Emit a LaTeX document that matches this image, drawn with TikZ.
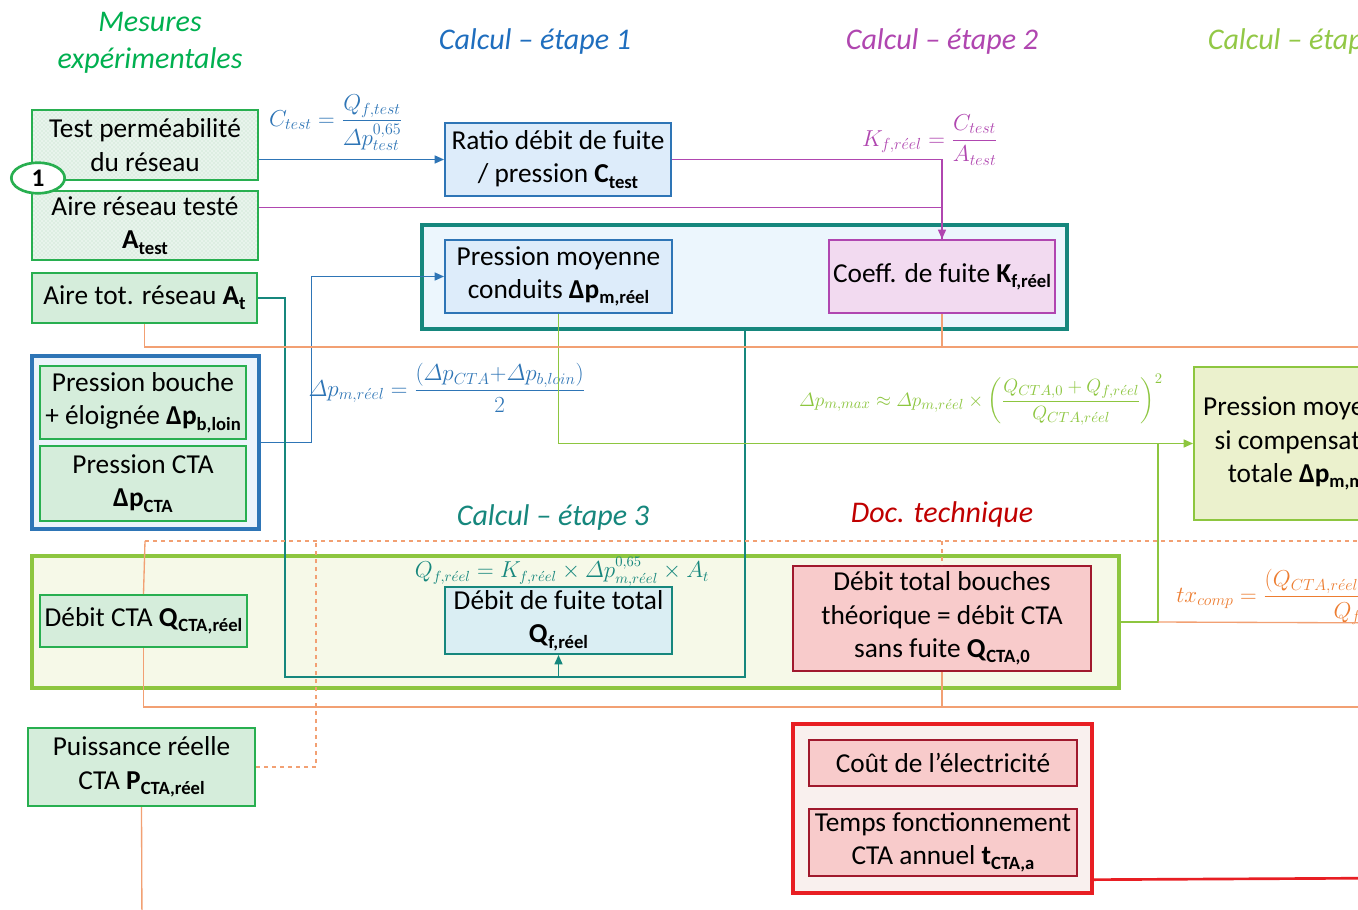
\documentclass[tikz,border=0pt]{standalone}
\usepackage{amsmath}
\usepackage[no-math]{fontspec}
\setmainfont{Carlito}
\usetikzlibrary{arrows.meta,patterns,calc,shapes.geometric}

% palette
\definecolor{tgreen}{RGB}{0,176,80}
\definecolor{mgreen}{RGB}{40,175,80}
\definecolor{mfill}{RGB}{213,237,219}
\definecolor{tfill}{RGB}{232,244,236}
\definecolor{tdot}{RGB}{185,220,196}
\definecolor{cblue}{RGB}{46,117,182}
\definecolor{tblue}{RGB}{31,110,190}
\definecolor{bfill}{RGB}{221,236,250}
\definecolor{gbfill}{RGB}{236,244,251}
\definecolor{cteal}{RGB}{22,135,125}
\definecolor{gtfill}{RGB}{236,246,253}
\definecolor{qffill}{RGB}{218,238,243}
\definecolor{cmag}{RGB}{176,70,176}
\definecolor{kfill}{RGB}{242,218,240}
\definecolor{clime}{RGB}{141,198,63}
\definecolor{tlime}{RGB}{146,200,70}
\definecolor{pfill}{RGB}{235,241,205}
\definecolor{glfill}{RGB}{246,249,232}
\definecolor{tred}{RGB}{192,0,0}
\definecolor{dred}{RGB}{160,25,45}
\definecolor{rfill}{RGB}{248,203,203}
\definecolor{cred}{RGB}{232,30,35}
\definecolor{grfill}{RGB}{249,240,238}
\definecolor{corange}{RGB}{242,160,115}
\definecolor{torange}{RGB}{237,125,49}

\newcommand{\boxfont}{\fontsize{20.5pt}{25pt}\selectfont}
\newcommand{\sbs}[2]{\textbf{#1}\raisebox{-0.4ex}{\fontsize{14pt}{14pt}\selectfont\bfseries #2}}
\newcommand{\reel}{r\acute{e}el}
% box given by its pixel corners
\newcommand{\cellbox}[7]{\node[#6, minimum width={(#4-#2)*0.75pt}, minimum height={(#5-#3)*0.75pt}] (#1) at ({(#2+#4)/2},{(#3+#5)/2}) {#7};}

\tikzset{
  bx/.style={draw, line width=1.5pt, inner sep=0pt, align=center, font=\boxfont, text=black},
  mes/.style={bx, draw=mgreen, fill=mfill},
  mesp/.style={bx, draw=mgreen, preaction={fill=tfill}, pattern=crosshatch dots, pattern color=tdot},
  blbox/.style={bx, draw=cblue, fill=bfill},
  kbox/.style={bx, draw=cmag, fill=kfill},
  qbox/.style={bx, draw=cteal, fill=qffill},
  pbox/.style={bx, draw=clime, fill=pfill},
  rbox/.style={bx, draw=dred, fill=rfill},
  grp/.style={draw, line width=2.5pt, inner sep=0pt},
  ttl/.style={font=\fontsize{22.5pt}{28pt}\selectfont\itshape, align=center},
  frm/.style={font=\fontsize{17pt}{20pt}\selectfont, inner sep=0pt},
  con/.style={line width=1pt},
  arr/.style={-{Triangle[length=7pt,width=6pt]}},
}

\begin{document}
\begin{tikzpicture}[x=0.75pt,y=-0.75pt]
\useasboundingbox (0,0) rectangle (1358,909);
\fill[white] (0,0) rectangle (1358,909);
\clip (0,0) rectangle (1358,909);

% column titles
\node[ttl, text=tgreen] (tmes) at (150,43) {Mesures\\expérimentales};
\node[ttl, text=tblue] (tc1) at (535,42) {Calcul – étape 1};
\node[ttl, text=cmag] (tc2) at (942,42) {Calcul – étape 2};
\node[ttl, text=tlime] (tc4) at (1304,42) {Calcul – étape 4};
\node[ttl, text=cteal] (tc3) at (553,517) {Calcul – étape 3};
\node[ttl, text=tred] (tdoc) at (942,514) {Doc. technique};

% groups
\cellbox{grpb}{32}{356}{259}{529}{grp, draw=cblue, fill=gbfill}{}
\cellbox{grpt}{422}{225}{1067}{329}{grp, draw=cteal, fill=gtfill}{}
\cellbox{grpl}{32}{556}{1119}{688}{grp, draw=clime, fill=glfill}{}
\cellbox{grpr}{793}{724}{1092}{893}{grp, draw=cred, fill=grfill}{}

% measurements
\cellbox{test}{32}{110}{258}{180}{mesp}{Test perméabilité\\du réseau}
\cellbox{atest}{32}{191}{258}{260}{mesp}{Aire réseau testé\\\sbs{A}{test}}
\node[ellipse, draw=mgreen, line width=2pt, fill=white, minimum width=40pt, minimum height=23pt, inner sep=0pt, font=\fontsize{19pt}{19pt}\selectfont\bfseries] (one) at (38,178) {1};
\cellbox{at}{32}{273}{257}{323}{mes}{Aire tot. réseau \sbs{A}{t}}
\cellbox{pb}{40}{366}{246}{439}{mes}{Pression bouche\\+ éloignée \sbs{Δp}{b,loin}}
\cellbox{pc}{40}{446}{246}{521}{mes}{Pression CTA\\\sbs{Δp}{CTA}}
\cellbox{qcta}{40}{595}{247}{647}{mes}{Débit CTA \sbs{Q}{CTA,réel}}
\cellbox{pr}{28}{728}{255}{806}{mes}{Puissance réelle\\CTA \sbs{P}{CTA,réel}}

% calculation boxes
\cellbox{ratio}{445}{123}{671}{196}{blbox}{Ratio débit de fuite\\/ pression \sbs{C}{test}}
\cellbox{pm}{445}{240}{672}{313}{blbox}{Pression moyenne\\conduits \sbs{Δp}{m,réel}}
\cellbox{kf}{829}{240}{1055}{313}{kbox}{Coeff. de fuite \sbs{K}{f,réel}}
\cellbox{pmax}{1194}{367}{1416}{520}{pbox}{Pression moyenne\\si compensation\\totale \sbs{Δp}{m,max}}
\cellbox{qf}{445}{587}{672}{654}{qbox}{Débit de fuite total\\\sbs{Q}{f,réel}}
\cellbox{q0}{793}{566}{1091}{671}{rbox}{Débit total bouches\\théorique = débit CTA\\sans fuite \sbs{Q}{CTA,0}}
\cellbox{cout}{809}{740}{1077}{786}{rbox}{Coût de l’électricité}
\cellbox{temps}{809}{809}{1077}{876}{rbox}{Temps fonctionnement\\CTA annuel \sbs{t}{CTA,a}}

% formulas
\node[frm, text=cblue] (f1) at (336,123) {$C_{test} = \dfrac{Q_{f,test}}{\varDelta p_{test}^{0{,}65}}$};
\node[frm, text=cmag] (f2) at (930,140) {$K_{f,\reel} = \dfrac{C_{test}}{A_{test}}$};
\node[frm, text=cblue] (f3) at (447,388) {$\varDelta p_{m,\reel} = \dfrac{(\varDelta p_{CTA}{+}\varDelta p_{b,loin})}{2}$};
\node[frm, text=cteal, font=\fontsize{16pt}{19pt}\selectfont] (f4) at (562,572) {$Q_{f,\reel} = K_{f,\reel}\times\varDelta p_{m,\reel}^{0{,}65}\times A_t$};
\node[frm, text=clime, font=\fontsize{15.8pt}{19pt}\selectfont] (f5) at (981,400) {$\varDelta p_{m,max} \approx \varDelta p_{m,\reel}\times\left(\dfrac{Q_{CTA,0}+Q_{f,\reel}}{Q_{CTA,\reel}}\right)^{2}$};
\node[frm, text=torange, anchor=west] (f6) at (1176,597) {$tx_{comp} = \dfrac{(Q_{CTA,\reel}-Q_{CTA,0})}{Q_{f,\reel}}$};

% junction points
\coordinate (t1) at (285,677);
\coordinate (t2) at (745,677);
\coordinate (lj) at (1158,444);
\coordinate (oR1) at (1400,347);
\coordinate (od0) at (145,541);
\coordinate (od1) at (316,541);
\coordinate (odR) at (1400,541);
\coordinate (obR) at (1400,707);
\coordinate (otx) at (1400,623);
\coordinate (obot) at (142,930);
\coordinate (rR) at (1400,878);

% step 1
\draw[con, cblue, arr] (ratio.west -| test.east) -- (ratio.west);
\draw[con, cblue, arr] (grpb.east) -- ++(51,0) |- (pm.west);
% step 2
\draw[con, cmag, arr] (ratio.east) -| (kf.north);
\draw[con, cmag] ($(atest.north east)!0.25!(atest.south east)$) -| (kf.north);
% step 3
\draw[con, cteal] (at.east) -| (t1) -- (t2) -- (t2 |- grpt.south);
\draw[con, cteal, arr] (qf.south |- t2) -- (qf.south);
% step 4
\draw[con, clime, arr] (pm.south) |- (pmax.west);
\draw[con, clime] (grpl.east) -| (lj);
% cost chain
\draw[con, corange] (at.south) |- (oR1);
\draw[con, corange] (kf.south) -- (kf.south |- oR1);
\draw[con, corange, dashed] (pr.east) -| (od1);
\draw[con, corange, dashed] (od0) -- (odR);
\draw[con, corange, dashed] (q0.north |- odR) -- (q0.north);
\draw[con, corange] (od0) -- (qcta.north);
\draw[con, corange] (qcta.south) -- (qcta.south |- obR) -- (obR);
\draw[con, corange] (q0.south) -- (q0.south |- obR);
\draw[con, corange] (lj |- grpl.east) -- (otx);
\draw[con, corange] (pr.south) -- (obot);
\draw[line width=2pt, cred] ($(grpr.south east)+(0,-15)$) -- (rR);
\end{tikzpicture}
\end{document}
